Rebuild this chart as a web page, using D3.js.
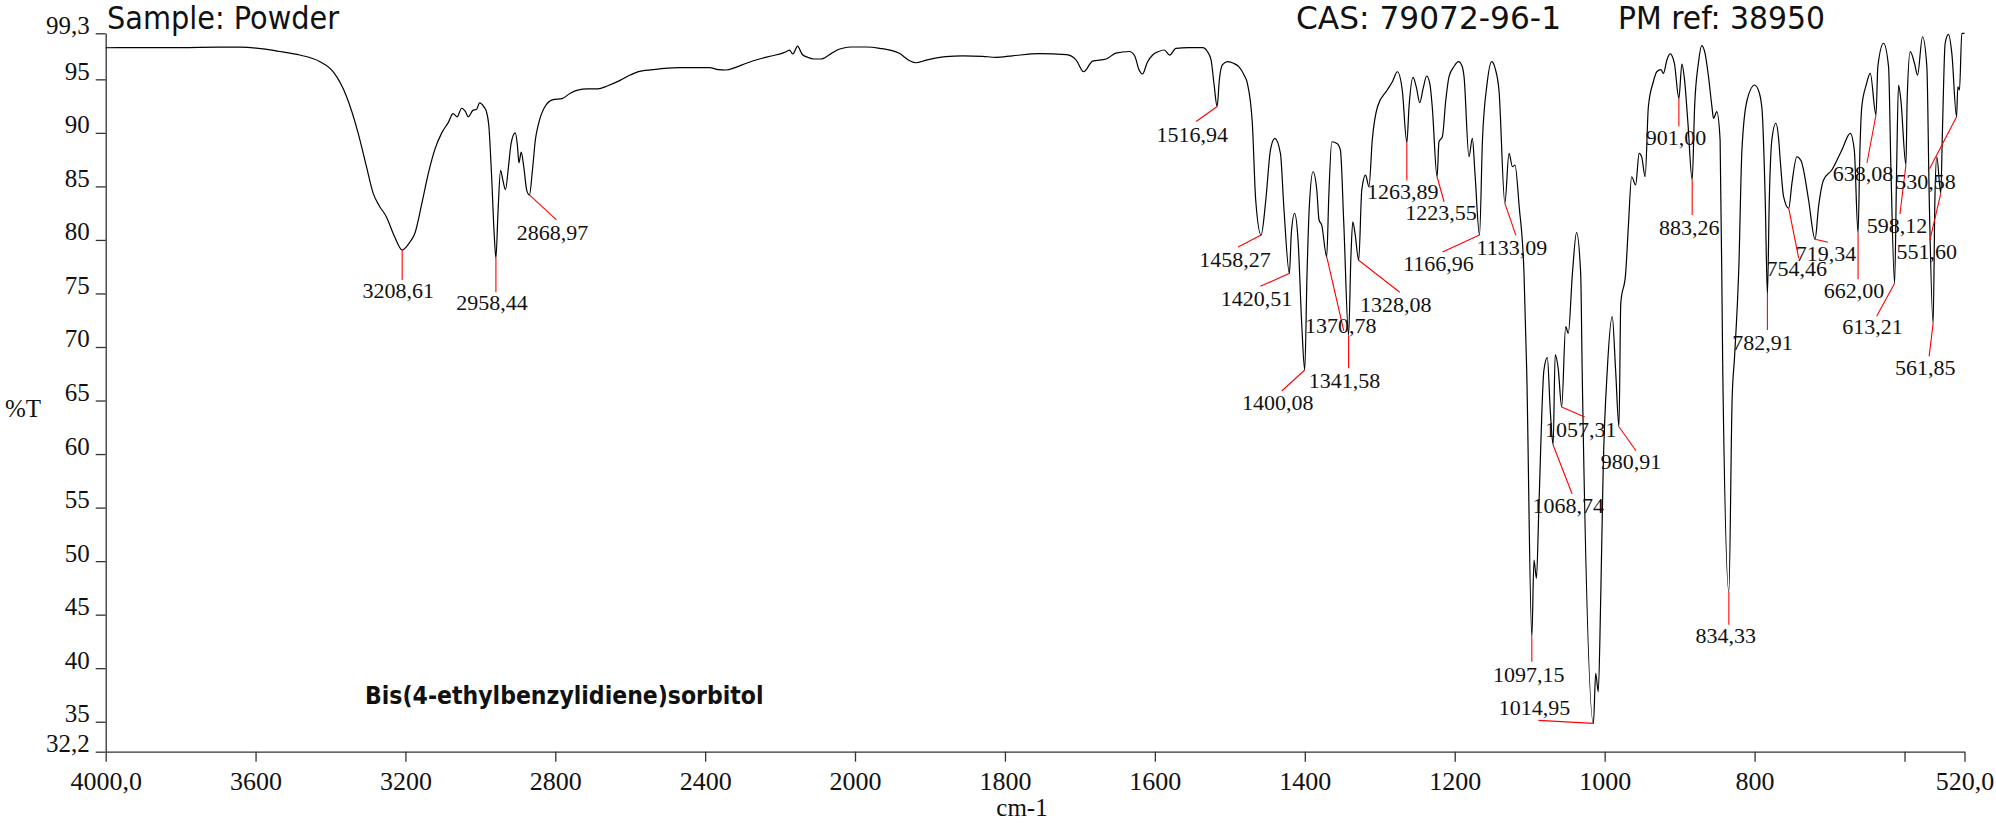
<!DOCTYPE html>
<html>
<head>
<meta charset="utf-8">
<script src="https://cdn.jsdelivr.net/npm/d3@7"></script>
<style>
  body { margin: 0; background: #fff; }
  svg { display: block; }
  .tick text { font-family: "Liberation Serif", "Times New Roman", serif; }
</style>
</head>
<body>
<svg id="chart" width="1996" height="825"></svg>
<script>
// ***************** DATA ********************
// spectrum points: [wavenumber cm-1, %T]
var spectrum = [
  [4000,97.95],[3900,97.97],[3800,97.96],[3700,98.0],[3640,98.0],[3580,97.85],[3535,97.6],[3482,97.27],
  [3428,96.65],[3393,95.71],[3357,93.38],[3326,89.96],[3304,86.84],[3286,84.35],[3270,83.2],[3251,82.17],
  [3230,80.4],[3208.61,79.06],[3190,79.7],[3175,80.6],[3155,83.6],[3139,86.2],[3120,88.6],[3103,90.0],
  [3085,91.0],[3073,91.8],[3062,91.5],[3050,92.3],[3040,92.0],[3032,91.5],[3020,92.1],[3010,92.2],
  [3002,92.8],[2990,92.4],[2984,92.0],[2977,90.5],[2970,86],[2963,80.5],[2958.44,78.3],[2953,82.5],
  [2946,86.5],[2940,85.6],[2933,84.7],[2925,86.8],[2918,89.0],[2907,90.0],[2901,88.8],[2897,87.2],
  [2891,88.2],[2884,86.8],[2876,84.6],[2868.97,84.2],[2861,86.5],[2853,89.4],[2845,90.8],[2830,92.3],
  [2806,93.1],[2782,93.2],[2760,93.7],[2740,94.0],[2715,94.1],[2687,94.1],[2660,94.4],[2627,94.9],
  [2600,95.4],[2580,95.7],[2540,95.9],[2500,96.05],[2468,96.09],[2430,96.1],[2388,96.1],[2365,95.9],
  [2344,95.87],[2320,96.1],[2290,96.5],[2255,96.9],[2220,97.2],[2190,97.5],[2180,97.65],[2175,97.73],
  [2166,97.37],[2153,98.11],[2145,97.6],[2140,97.3],[2126,97.06],[2110,96.9],[2091,96.9],[2068,97.3],
  [2050,97.7],[2033,97.9],[2010,98.02],[1985,98.02],[1967,97.9],[1941,97.43],[1927,96.74],[1918.7,96.55],
  [1905,96.8],[1879,97.12],[1856,97.2],[1830,97.15],[1812,97.06],[1790,97.2],[1754,97.4],[1718,97.3],
  [1705,96.8],[1695,95.71],[1683,96.7],[1665,96.9],[1652,97.45],[1634,97.6],[1627,97.2],[1621,95.87],
  [1616.5,95.5],[1610,96.6],[1603,97.27],[1595,97.6],[1587.6,97.74],[1580,97.27],[1572,97.9],[1555,97.96],
  [1536,97.96],[1530,97.6],[1525,96.8],[1521,94.5],[1516.94,92.46],[1514,94.94],[1510,96.34],[1503,96.65],
  [1495,96.5],[1488,96.18],[1481,95.4],[1476.6,94.63],[1470,90.9],[1465.5,83.73],[1458.27,80.46],[1452,83.73],
  [1445.8,88.4],[1440,89.49],[1432.5,88.09],[1428,83.1],[1420.51,76.88],[1418,80.62],[1413.6,82.49],[1409,80],
  [1404,72],[1400.08,67.85],[1397,76.9],[1394,83.1],[1389,86.37],[1384,84.66],[1381,81.86],[1377.5,81.4],
  [1370.78,78.43],[1368,84.04],[1364,89.17],[1357,89.0],[1352.5,88.4],[1348,81.55],[1341.58,71.1],[1338.5,78.4],
  [1336,81.7],[1333,80.6],[1328.08,78.1],[1324,84.66],[1319,86.06],[1314.4,84.97],[1310,89.33],[1303,92.44],
  [1290,94.0],[1283,94.8],[1276.5,95.71],[1270,94.0],[1263.89,89.1],[1261,92.4],[1255.6,95.19],[1251,94.2],
  [1246.7,92.82],[1242,94.2],[1237.4,95.31],[1233,94.5],[1230,92.44],[1223.55,85.9],[1221,89.18],[1216.5,89.64],
  [1212,93.0],[1207.6,95.25],[1201,96.2],[1195,96.65],[1190,96.2],[1187.6,95.25],[1181,87.77],[1176.5,89.49],
  [1173,86.22],[1166.96,80.46],[1163,89.33],[1157,94.5],[1150.7,96.65],[1146,96.0],[1141,94.0],[1133.09,83.42],
  [1127.6,88.09],[1123,86.84],[1119.6,87.0],[1114,83.1],[1107.6,76.88],[1104,67.85],[1097.15,42.94],[1094.3,50.1],
  [1091,48.39],[1087.6,55.4],[1081,67.85],[1076.5,69.0],[1072.5,64],[1068.74,60.85],[1066,69.3],[1062,68],
  [1057.31,64.4],[1052,71.9],[1048.5,71.28],[1043,76.88],[1037.5,80.68],[1032,76.88],[1030,67.85],[1014.95,34.85],
  [1012,39.52],[1008.5,37.8],[1005.4,46.05],[1002,58.5],[996.5,67.85],[989.9,72.83],[985.4,67.85],[980.91,62.55],
  [978.5,74.08],[972,76.88],[968.4,81.24],[964,85.9],[958.7,85.13],[954,88.09],[950.7,87.78],[946,85.9],
  [941.7,92.44],[935,94.8],[930.5,95.71],[925,95.9],[921.6,95.56],[917,96.8],[912.7,97.37],[907,96.5],
  [901.0,93.23],[897,96.43],[893.5,95.0],[889,91],[883.26,85.6],[880,92.44],[875,96.5],[870.4,98.15],
  [866,97.4],[861.5,95.25],[857,92.5],[854.8,91.36],[850.4,91.98],[846,89.33],[842.5,68],[834.33,47.14],
  [830,65.05],[826.7,69.1],[821,77.5],[816.9,88.4],[810,93.07],[800,94.47],[794,93.8],[790,92.1],
  [785.8,83.73],[782.91,74.86],[780.4,83.73],[777,89.33],[771.6,90.9],[768,89.5],[765.8,87.47],[761.3,84.04],
  [754.46,82.95],[750.2,85.29],[743.6,87.77],[738,87.4],[734.7,86.53],[728,83.73],[719.34,80.06],[714.7,83.1],
  [708,85.6],[697,86.53],[683.6,88.4],[672.4,89.96],[667,88.4],[662.0,80.62],[659.5,88.4],[657,92.44],
  [651,94.5],[645.7,95.56],[638.08,91.67],[635.6,96.18],[628,98.37],[621.3,96.18],[618.2,86.84],[613.21,75.95],
  [610.5,86.84],[608,94.47],[604.9,93.07],[598.12,87.0],[596.5,93.07],[592.4,97.58],[586.7,96.5],[582.7,95.4],
  [576,98.98],[570.2,96.18],[567,83.73],[561.85,72.21],[559.5,83.73],[557,87.77],[551.6,84.35],[549.5,89.96],
  [545.8,98.37],[541.3,99.2],[536.9,97.43],[530.58,91.5],[528.9,94.31],[526.7,94.0],[523.6,99.3],[520,99.3]
];

// labelled peaks (wavenumber)
var peakWn = [3208.61, 2958.44, 2868.97, 1516.94, 1458.27, 1420.51, 1400.08, 1370.78, 1341.58, 1328.08,
  1263.89, 1223.55, 1166.96, 1133.09, 1097.15, 1068.74, 1057.31, 1014.95, 980.91, 901.00, 883.26,
  834.33, 782.91, 754.46, 719.34, 662.00, 638.08, 613.21, 598.12, 561.85, 551.60, 530.58];

// axis ticks
var xTicks = [4000, 3600, 3200, 2800, 2400, 2000, 1800, 1600, 1400, 1200, 1000, 800, 600, 520];
var yTicks = [99.3, 95, 90, 85, 80, 75, 70, 65, 60, 55, 50, 45, 40, 35, 32.2];

// ***************** LAYOUT ********************
// per peak: leader line end [dx,dy] from the peak point, then text offset [dx,dy] from line end
var labelLayout = [
  [0,30,-4,18],[0,34,-4,18],[27,25,-4,20],[-21,15,-4,20],[-23,12,-3,20],[-29,13,-4,20],[-23,21,-4,19],
  [17,74,-3,2],[0,33,-4,20],[41,32,-4,20],[0,38,-4,18],[7,25,-3,18],[-37,17,-4,19],[11,32,-4,20],
  [0,25,-3,20],[19,49,-4,19],[23,10,-4,20],[-55,-3,-4,-5],[17,24,-5,18],[0,28,-3,19],[0,35,-3,20],
  [0,33,-3,18],[0,35,-5,20],[10,50,-2,18],[13,3,-2,19],[0,46,-4,19],[-9,48,-4,18],[-18,33,-4,18],
  [-6,49,-3,19],[-4,33,-4,19],[-11,47,-3,19],[-27,52,-4,20]
];

var svg = d3.select("#chart");
var serif = '"Liberation Serif", "Times New Roman", serif';
var sans = '"DejaVu Sans Condensed", "DejaVu Sans", sans-serif';

// x has a 2x expansion below 2000 cm-1
var x = d3.scaleLinear().domain([4000, 2000, 520]).range([105.7, 855, 1964.5]);
var y = d3.scaleLinear().domain([32.2, 99.3]).range([751.7, 33.3]);

var comma = function(v, digits){ return d3.format("." + digits + "f")(v).replace(".", ","); };

// ***************** AXES ********************
var xAxis = d3.axisBottom(x)
  .tickValues(xTicks)
  .tickSizeInner(10).tickSizeOuter(0).tickPadding(10)
  .tickFormat(function(d){
    if (d === 4000 || d === 520) return comma(d, 1);
    if (d === 600) return "";
    return d;
  });
var gx = svg.append("g").attr("transform", "translate(0," + y(32.2) + ")").call(xAxis);
gx.selectAll("text").attr("font-size", 26).attr("fill", "#111");

var yAxis = d3.axisLeft(y)
  .tickValues(yTicks)
  .tickSizeInner(10).tickSizeOuter(0).tickPadding(6)
  .tickFormat(function(d){ return (d % 1) ? comma(d, 1) : d; });
var gy = svg.append("g").attr("transform", "translate(" + x(4000) + ",0)").call(yAxis);
gy.selectAll("text").attr("font-size", 25).attr("dy", 0).attr("fill", "#111");

svg.selectAll(".domain, .tick line").attr("stroke", "#333").attr("stroke-width", 1.3);

// ***************** SPECTRUM ********************
var line = d3.line()
  .x(function(d){ return x(d[0]); })
  .y(function(d){ return y(d[1]); })
  .curve(d3.curveMonotoneX);

svg.append("path")
  .datum(spectrum)
  .attr("d", line)
  .attr("fill", "none")
  .attr("stroke", "#000")
  .attr("stroke-width", 1.2);

// ***************** PEAK LABELS ********************
var peaks = peakWn.map(function(wn, i){
  var pt = spectrum.find(function(d){ return d[0] === wn; });
  var l = labelLayout[i];
  var px = x(wn), py = y(pt[1]);
  return { text: comma(wn, 2), px: px, py: py, ex: px + l[0], ey: py + l[1], tx: px + l[0] + l[2], ty: py + l[1] + l[3] };
});

svg.selectAll("line.leader")
  .data(peaks)
  .enter()
  .append("line")
  .classed("leader", true)
  .attr("x1", function(d){ return d.px; })
  .attr("y1", function(d){ return d.py; })
  .attr("x2", function(d){ return d.ex; })
  .attr("y2", function(d){ return d.ey; })
  .attr("stroke", "#ff0000")
  .attr("stroke-width", 1.1);

svg.selectAll("text.peak")
  .data(peaks)
  .enter()
  .append("text")
  .classed("peak", true)
  .attr("x", function(d){ return d.tx; })
  .attr("y", function(d){ return d.ty; })
  .attr("text-anchor", "middle")
  .attr("font-family", serif)
  .attr("font-size", 22)
  .attr("fill", "#111")
  .text(function(d){ return d.text; });

// ***************** TITLES ********************
svg.append("text").attr("x", 107).attr("y", 29)
  .attr("font-family", sans).attr("font-size", 32).attr("fill", "#111")
  .text("Sample: Powder");
svg.append("text").attr("x", 1296).attr("y", 29)
  .attr("font-family", sans).attr("font-size", 32).attr("fill", "#111")
  .attr("textLength", 265).attr("lengthAdjust", "spacingAndGlyphs")
  .text("CAS: 79072-96-1");
svg.append("text").attr("x", 1825).attr("y", 29).attr("text-anchor", "end")
  .attr("font-family", sans).attr("font-size", 32).attr("fill", "#111")
  .attr("textLength", 207).attr("lengthAdjust", "spacingAndGlyphs")
  .text("PM ref: 38950");
svg.append("text").attr("x", 365).attr("y", 704)
  .attr("font-family", sans).attr("font-size", 24.5).attr("font-weight", "bold").attr("fill", "#111")
  .text("Bis(4-ethylbenzylidiene)sorbitol");
svg.append("text").attr("x", 5).attr("y", 417)
  .attr("font-family", serif).attr("font-size", 25).attr("fill", "#111")
  .text("%T");
svg.append("text").attr("x", 1022).attr("y", 816).attr("text-anchor", "middle")
  .attr("font-family", serif).attr("font-size", 25).attr("fill", "#111")
  .text("cm-1");
</script>
</body>
</html>
